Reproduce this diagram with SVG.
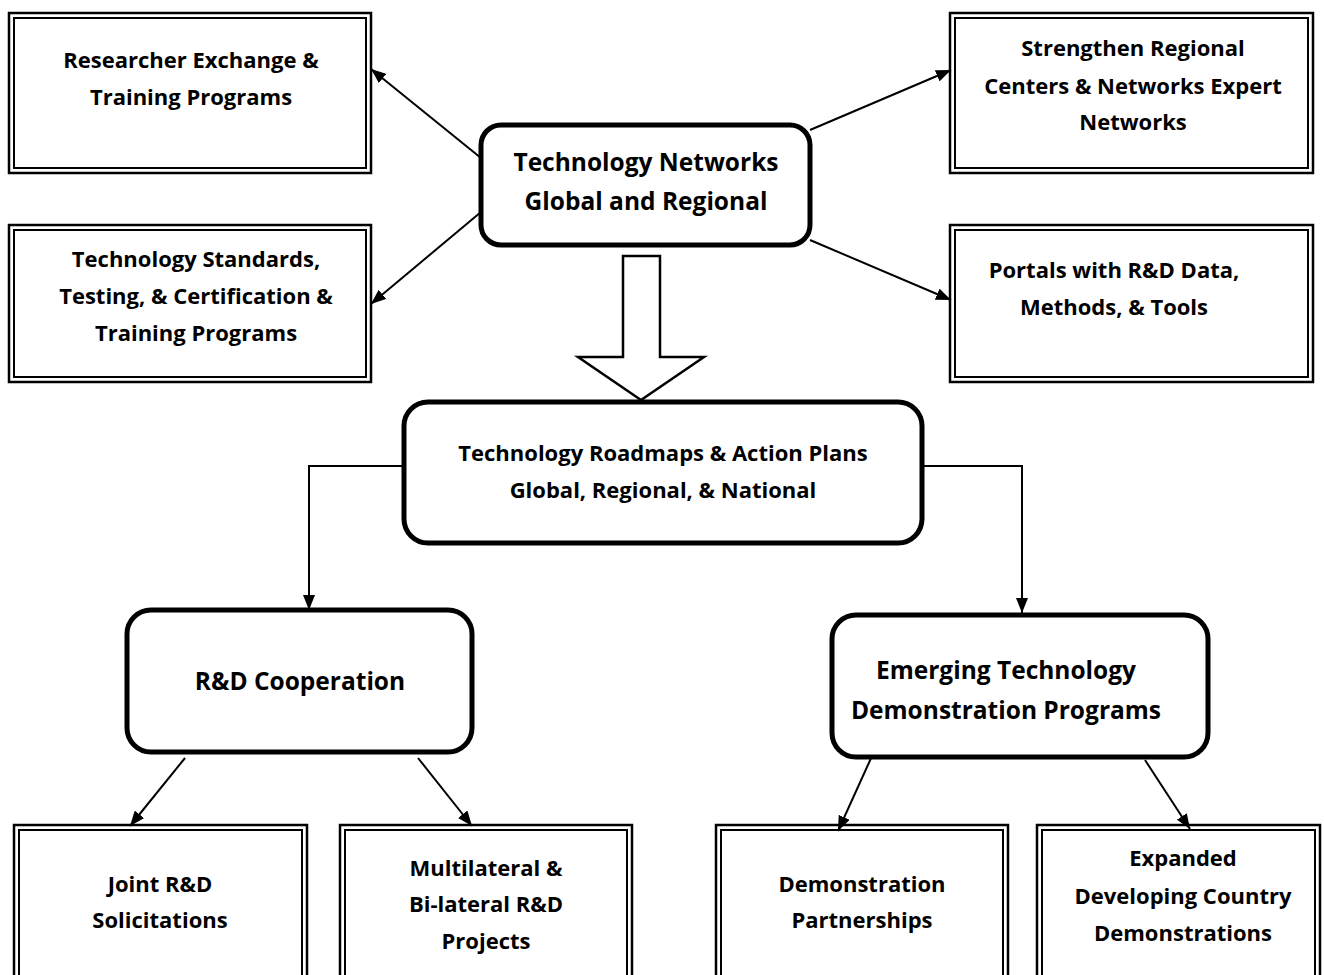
<svg xmlns="http://www.w3.org/2000/svg" width="1324" height="975" viewBox="0 0 1324 975">
<style>
.o{fill:none;stroke:#000;stroke-width:2.5}
.i{fill:none;stroke:#000;stroke-width:2}
.r{fill:#fff;stroke:#000;stroke-width:5}
.c{fill:none;stroke:#000;stroke-width:2}
text{font-family:"Open Sans","Noto Sans","Liberation Sans",sans-serif;font-weight:700;fill:#000;text-anchor:middle}
.s{font-size:22px}
.l{font-size:24.5px}
</style>
<defs>
<marker id="a" viewBox="0 0 15 12" refX="15" refY="6" markerWidth="15" markerHeight="12" markerUnits="userSpaceOnUse" orient="auto">
<path d="M0,0 L15,6 L0,12 z" fill="#000"/>
</marker>
</defs>
<rect width="1324" height="975" fill="#fff"/>
<g id="connectors">
<line class="c" x1="481" y1="158" x2="371" y2="69" marker-end="url(#a)"/>
<line class="c" x1="810" y1="130" x2="951" y2="70" marker-end="url(#a)"/>
<line class="c" x1="481" y1="212" x2="371" y2="304" marker-end="url(#a)"/>
<line class="c" x1="810" y1="240" x2="951" y2="300" marker-end="url(#a)"/>
<polyline class="c" points="410,466 309,466 309,610" marker-end="url(#a)"/>
<polyline class="c" points="922,466 1022,466 1022,613" marker-end="url(#a)"/>
<line class="c" x1="185" y1="758" x2="130" y2="826" marker-end="url(#a)"/>
<line class="c" x1="418" y1="758" x2="472" y2="826" marker-end="url(#a)"/>
<line class="c" x1="872" y1="756" x2="838" y2="831" marker-end="url(#a)"/>
<line class="c" x1="1145" y1="760" x2="1190" y2="829" marker-end="url(#a)"/>
<path d="M623,256 L660,256 L660,357 L704,357 L641,400 L578,357 L623,357 Z" fill="#fff" stroke="#000" stroke-width="2.5"/>
</g>
<g id="n1">
<rect class="o" x="9" y="13" width="362" height="160"/>
<rect class="i" x="14" y="18" width="352" height="150"/>
<text class="s" x="191" y="68">Researcher Exchange &amp;</text>
<text class="s" x="191" y="105">Training Programs</text>
</g>
<g id="n2">
<rect class="o" x="9" y="225" width="362" height="157"/>
<rect class="i" x="14" y="230" width="352" height="147"/>
<text class="s" x="196" y="267">Technology Standards,</text>
<text class="s" x="196" y="304">Testing, &amp; Certification &amp;</text>
<text class="s" x="196" y="341">Training Programs</text>
</g>
<g id="n3">
<rect class="o" x="950" y="13" width="363" height="160"/>
<rect class="i" x="955" y="18" width="353" height="150"/>
<text class="s" x="1133" y="56">Strengthen Regional</text>
<text class="s" x="1133" y="94">Centers &amp; Networks Expert</text>
<text class="s" x="1133" y="130">Networks</text>
</g>
<g id="n4">
<rect class="o" x="950" y="225" width="363" height="157"/>
<rect class="i" x="955" y="230" width="353" height="147"/>
<text class="s" x="1114" y="278">Portals with R&amp;D Data,</text>
<text class="s" x="1114" y="315">Methods, &amp; Tools</text>
</g>
<g id="n5">
<rect class="r" x="481" y="125" width="329" height="120" rx="20"/>
<text class="l" x="646" y="171">Technology Networks</text>
<text class="l" x="646" y="210">Global and Regional</text>
</g>
<g id="n6">
<rect class="r" x="404" y="402" width="518" height="141" rx="24"/>
<text class="s" x="663" y="461">Technology Roadmaps &amp; Action Plans</text>
<text class="s" x="663" y="498">Global, Regional, &amp; National</text>
</g>
<g id="n7">
<rect class="r" x="127" y="610" width="345" height="142" rx="24"/>
<text class="l" x="300" y="690">R&amp;D Cooperation</text>
</g>
<g id="n8">
<rect class="r" x="832" y="615" width="376" height="142" rx="24"/>
<text class="l" x="1006" y="679">Emerging Technology</text>
<text class="l" x="1006" y="719">Demonstration Programs</text>
</g>
<g id="n9">
<rect class="o" x="14" y="825" width="293" height="160"/>
<rect class="i" x="19" y="830" width="283" height="150"/>
<text class="s" x="160" y="892">Joint R&amp;D</text>
<text class="s" x="160" y="928">Solicitations</text>
</g>
<g id="n10">
<rect class="o" x="340" y="825" width="292" height="160"/>
<rect class="i" x="345" y="830" width="282" height="150"/>
<text class="s" x="486" y="876">Multilateral &amp;</text>
<text class="s" x="486" y="912">Bi-lateral R&amp;D</text>
<text class="s" x="486" y="949">Projects</text>
</g>
<g id="n11">
<rect class="o" x="716" y="825" width="292" height="160"/>
<rect class="i" x="721" y="830" width="282" height="150"/>
<text class="s" x="862" y="892">Demonstration</text>
<text class="s" x="862" y="928">Partnerships</text>
</g>
<g id="n12">
<rect class="o" x="1037" y="825" width="283" height="160"/>
<rect class="i" x="1042" y="830" width="273" height="150"/>
<text class="s" x="1183" y="866">Expanded</text>
<text class="s" x="1183" y="904">Developing Country</text>
<text class="s" x="1183" y="941">Demonstrations</text>
</g>
</svg>
